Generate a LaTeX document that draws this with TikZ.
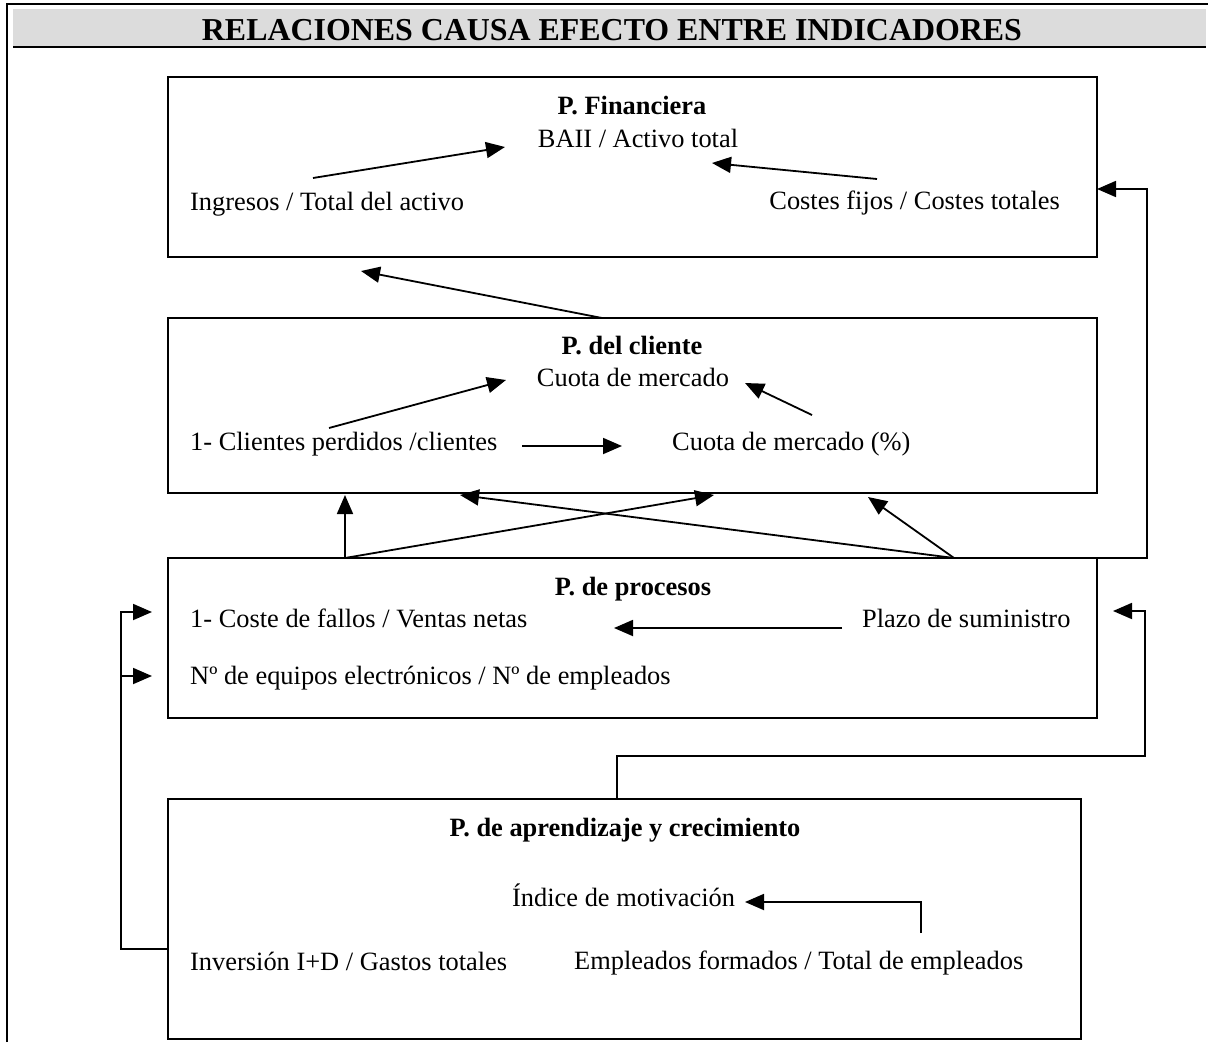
\documentclass[tikz,border=0pt]{standalone}
\usepackage{fontspec}
\setmainfont{Liberation Serif}
\usetikzlibrary{arrows.meta,calc}

\definecolor{bandgray}{HTML}{DCDCDC}

\tikzset{
  panel/.style={draw, line width=1.8pt, outer sep=0pt, inner sep=0pt, anchor=north west},
  lbl/.style={font=\fontsize{26.4}{30}\selectfont, inner sep=0pt},
  ttl/.style={lbl, font=\fontsize{26.4}{30}\selectfont\bfseries},
  head/.style={font=\fontsize{31.9}{36}\selectfont\bfseries, inner sep=0pt},
  link/.style={line width=1.8pt, -{Triangle[length=19pt,width=16pt]}},
}

\begin{document}
\begin{tikzpicture}[x=1pt, y=-1pt]
        \useasboundingbox (0,0) rectangle (1208,1042);
        % Header band and frame
        \fill[bandgray] (13,9) rectangle (1206,46);
        \draw[line width=2pt] (7,1042) -- (7,4) -- (1208,4);
        \draw[line width=1.6pt] (13,47) -- (1206,47);
        \node[head, anchor=base] (titulo) at (612,40) {RELACIONES CAUSA EFECTO ENTRE INDICADORES};
        % Perspective boxes
        \node[panel, minimum width=929pt, minimum height=180pt] (fin) at (168,77) {};
        \node[panel, minimum width=929pt, minimum height=175pt] (cli) at (168,318) {};
        \node[panel, minimum width=929pt, minimum height=160pt] (proc) at (168,558) {};
        \node[panel, minimum width=913pt, minimum height=240pt] (apr) at (168,799) {};
        % P. Financiera
        \node[ttl, anchor=base] (finT) at (632,114) {P. Financiera};
        \node[lbl, anchor=base] (baii) at (638,147) {BAII / Activo total};
        \node[lbl, anchor=base west] (ingresos) at (190,210) {Ingresos / Total del activo};
        \node[lbl, anchor=base east] (costes) at (1060,209) {Costes fijos / Costes totales};
        \coordinate (ingA) at (313,178);
        \coordinate (baiiL) at (505,147);
        \coordinate (cosA) at (877,179);
        \coordinate (baiiR) at (712,163);
        \draw[link] (ingA) -- (baiiL);
        \draw[link] (cosA) -- (baiiR);
        % P. del cliente
        \node[ttl, anchor=base] (cliT) at (632,354) {P. del cliente};
        \node[lbl, anchor=base] (cuota) at (633,386) {Cuota de mercado};
        \node[lbl, anchor=base west] (perdidos) at (190,450) {1- Clientes perdidos /clientes};
        \node[lbl, anchor=base west] (cuotapc) at (672,450) {Cuota de mercado (\%)};
        \coordinate (perA) at (329,428);
        \coordinate (cuotaL) at (506,380);
        \coordinate (pcA) at (812,415);
        \coordinate (cuotaR) at (745,383);
        \coordinate (perB) at (522,446);
        \coordinate (pcL) at (622,446);
        \draw[link] (perA) -- (cuotaL);
        \draw[link] (pcA) -- (cuotaR);
        \draw[link] (perB) -- (pcL);
        % P. de procesos
        \node[ttl, anchor=base] (procT) at (633,595) {P. de procesos};
        \node[lbl, anchor=base west] (fallos) at (190,627) {1- Coste de fallos / Ventas netas};
        \node[lbl, anchor=base west] (plazo) at (862,627) {Plazo de suministro};
        \node[lbl, anchor=base west] (equipos) at (190,684) {Nº de equipos electrónicos / Nº de empleados};
        \coordinate (plazoA) at (842,628);
        \coordinate (fallosR) at (614,628);
        \draw[link] (plazoA) -- (fallosR);
        % P. de aprendizaje y crecimiento
        \node[ttl, anchor=base] (aprT) at (625,836) {P. de aprendizaje y crecimiento};
        \node[lbl, anchor=base west] (indice) at (512,906) {Índice de motivación};
        \node[lbl, anchor=base west] (inversion) at (190,970) {Inversión I+D / Gastos totales};
        \node[lbl, anchor=base west] (formados) at (574,969) {Empleados formados / Total de empleados};
        \coordinate (formA) at (921,933);
        \coordinate (indiceR) at (745,902);
        \draw[link] (formA) |- (indiceR);
        % Links between perspectives
        \coordinate (finB) at (361,271);
        \draw[link] ($(cli.north west)+(434,0)$) -- (finB);
        \draw[link] ($(proc.north west)+(177,0)$) -- ($(cli.south west)+(177,2)$);
        \draw[link] ($(proc.north west)+(177,0)$) -- ($(cli.south west)+(546,2)$);
        \draw[link] ($(proc.north west)+(786,0)$) -- ($(cli.south west)+(292,2)$);
        \draw[link] ($(proc.north west)+(786,0)$) -- ($(cli.south west)+(700,4)$);
        \draw[link] (proc.north east) -- ++(50,0) |- ($(fin.north east)+(0,112)$);
        \draw[link] ($(apr.north west)+(449,0)$) |- ++(528,-43) |- ($(proc.east)+(16,-27)$);
        \draw[link] ($(apr.north west)+(0,150)$) -- ++(-47,0) |- ($(proc.north west)+(-16,54)$);
        \draw[link] ($(proc.north west)+(-47,118)$) -- ++(31,0);
\end{tikzpicture}
\end{document}
